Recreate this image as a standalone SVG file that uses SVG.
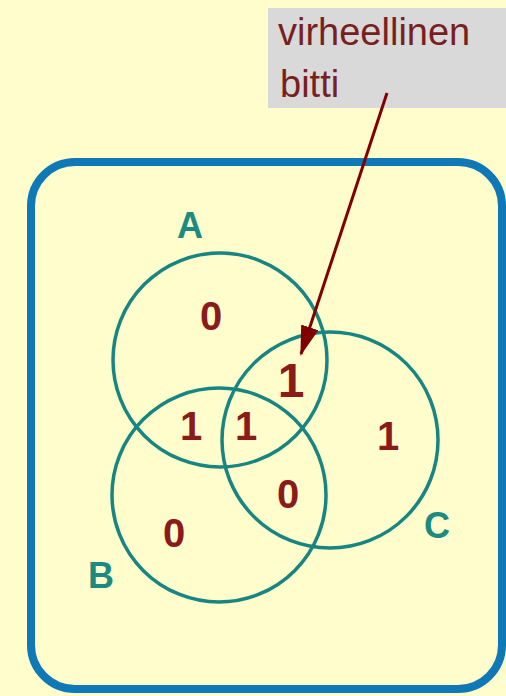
<svg xmlns="http://www.w3.org/2000/svg" width="506" height="696" viewBox="0 0 506 696">
<defs>
<style>
.circ{fill:none;stroke:#178582;stroke-width:3.5}
.lbl{font-family:"Liberation Sans",Arial,sans-serif;font-weight:bold;font-size:36px;fill:#1b8a80;text-anchor:middle}
.num{font-family:"Liberation Sans",Arial,sans-serif;font-weight:bold;font-size:40px;fill:#8b1a1a;text-anchor:middle}
.note{font-family:"Liberation Sans",Arial,sans-serif;font-size:38px;fill:#7a1f1f}
</style>
<marker id="ah" viewBox="0 0 30 18" markerWidth="30" markerHeight="18" refX="28" refY="9" orient="auto" markerUnits="userSpaceOnUse">
<path d="M0,0 L30,9 L0,18 z" fill="#800000"/>
</marker>
</defs>
<rect x="0" y="0" width="506" height="696" fill="#fffdcb"/>
<g id="frame">
<rect x="31" y="162" width="471" height="527" rx="44" fill="none" stroke="#0f78b6" stroke-width="8"/>
</g>
<g id="setA">
<circle class="circ" cx="220" cy="360" r="107"/>
<text class="lbl" x="190" y="238">A</text>
</g>
<g id="setB">
<circle class="circ" cx="219" cy="495" r="107"/>
<text class="lbl" x="101" y="588">B</text>
</g>
<g id="setC">
<circle class="circ" cx="330" cy="440" r="108"/>
<text class="lbl" x="437" y="538">C</text>
</g>
<g id="values">
<text class="num" x="211" y="330">0</text>
<text class="num" x="291" y="397" style="font-size:48px">1</text>
<text class="num" x="191" y="440">1</text>
<text class="num" x="246" y="440">1</text>
<text class="num" x="388" y="450">1</text>
<text class="num" x="288" y="508">0</text>
<text class="num" x="174" y="547">0</text>
</g>
<g id="note">
<rect x="268" y="8" width="240" height="100" fill="#d9d9d9"/>
<text class="note" x="278" y="45">virheellinen</text>
<text class="note" x="280" y="97">bitti</text>
</g>
<g id="connectors">
<line x1="387" y1="93" x2="301" y2="354" stroke="#800000" stroke-width="3" marker-end="url(#ah)"/>
</g>
</svg>
